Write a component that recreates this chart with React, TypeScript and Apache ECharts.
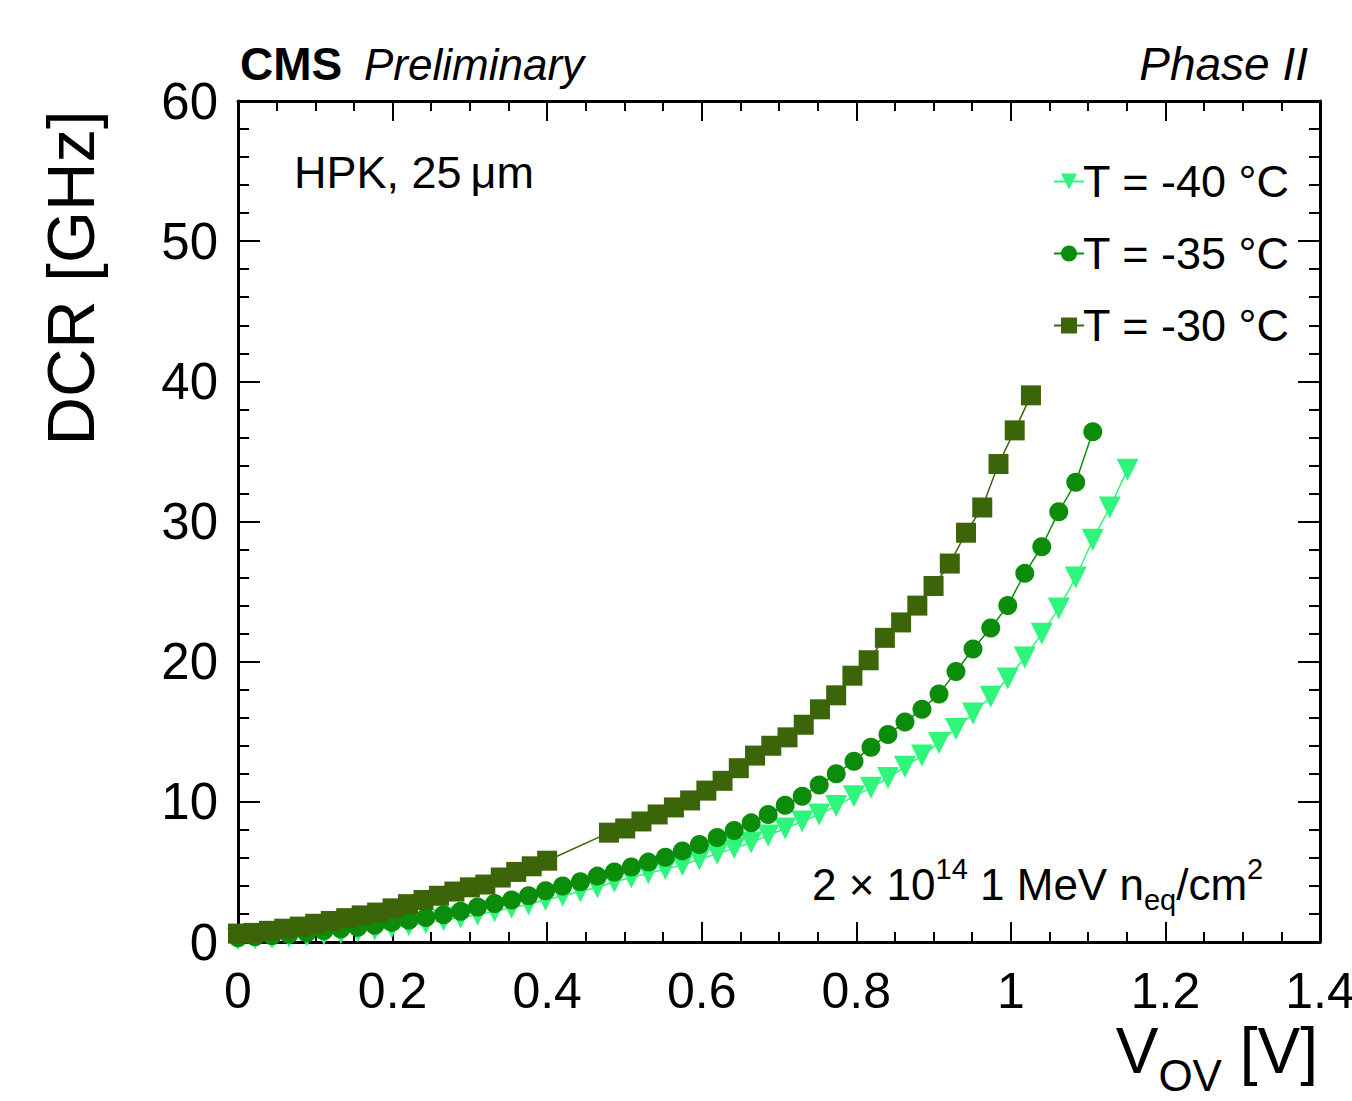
import React, { useEffect, useRef } from "react";
import * as echarts from "echarts";

const FONT = "'Liberation Sans', Arial, Helvetica, sans-serif";

const xTicks = [0, 0.2, 0.4, 0.6, 0.8, 1, 1.2, 1.4];
const yTicks = [0, 10, 20, 30, 40, 50, 60];

const seriesNames = ["T = -40 °C", "T = -35 °C", "T = -30 °C"];

const xM40 = [0, 0.022, 0.044, 0.066, 0.089, 0.111, 0.133, 0.155, 0.177, 0.199, 0.221, 0.243, 0.266, 0.288, 0.31, 0.332, 0.354, 0.376, 0.398, 0.42, 0.443, 0.465, 0.487, 0.509, 0.531, 0.553, 0.575, 0.597, 0.62, 0.642, 0.664, 0.686, 0.708, 0.73, 0.752, 0.774, 0.797, 0.819, 0.841, 0.863, 0.885, 0.907, 0.929, 0.951, 0.974, 0.996, 1.018, 1.04, 1.062, 1.084, 1.106, 1.128, 1.151];
const yM40 = [0.2, 0.25, 0.3, 0.38, 0.45, 0.55, 0.65, 0.77, 0.9, 1.05, 1.2, 1.35, 1.55, 1.75, 1.95, 2.2, 2.45, 2.7, 3.0, 3.3, 3.6, 3.9, 4.3, 4.6, 4.9, 5.2, 5.5, 5.9, 6.3, 6.7, 7.1, 7.6, 8.1, 8.6, 9.1, 9.7, 10.4, 11.0, 11.7, 12.5, 13.3, 14.2, 15.2, 16.3, 17.5, 18.8, 20.3, 22.0, 23.8, 26.0, 28.7, 31.0, 33.7];

const xM35 = [0, 0.022, 0.044, 0.066, 0.089, 0.111, 0.133, 0.155, 0.177, 0.199, 0.221, 0.243, 0.266, 0.288, 0.31, 0.332, 0.354, 0.376, 0.398, 0.42, 0.443, 0.465, 0.487, 0.509, 0.531, 0.553, 0.575, 0.597, 0.62, 0.642, 0.664, 0.686, 0.708, 0.73, 0.752, 0.774, 0.797, 0.819, 0.841, 0.863, 0.885, 0.907, 0.929, 0.951, 0.974, 0.996, 1.018, 1.04, 1.062, 1.084, 1.106];
const yM35 = [0.3, 0.38, 0.45, 0.55, 0.65, 0.8, 0.92, 1.05, 1.2, 1.4, 1.55, 1.75, 1.95, 2.2, 2.5, 2.75, 3.0, 3.3, 3.65, 4.0, 4.3, 4.7, 5.0, 5.35, 5.7, 6.05, 6.5, 6.95, 7.45, 7.95, 8.5, 9.1, 9.75, 10.4, 11.2, 12.0, 12.9, 13.9, 14.8, 15.7, 16.6, 17.7, 19.3, 20.9, 22.4, 24.0, 26.3, 28.2, 30.7, 32.8, 36.4];

const xM30 = [0, 0.02, 0.04, 0.06, 0.08, 0.1, 0.12, 0.14, 0.16, 0.18, 0.2, 0.22, 0.24, 0.26, 0.28, 0.3, 0.32, 0.34, 0.36, 0.38, 0.4, 0.48, 0.501, 0.522, 0.543, 0.564, 0.585, 0.606, 0.627, 0.648, 0.669, 0.69, 0.711, 0.732, 0.753, 0.774, 0.795, 0.816, 0.837, 0.858, 0.879, 0.9, 0.921, 0.942, 0.963, 0.984, 1.005, 1.026];
const yM30 = [0.6, 0.65, 0.8, 0.95, 1.1, 1.3, 1.5, 1.7, 1.9, 2.1, 2.4, 2.7, 3.0, 3.3, 3.6, 3.9, 4.1, 4.6, 5.0, 5.4, 5.8, 7.8, 8.1, 8.6, 9.1, 9.6, 10.1, 10.8, 11.5, 12.4, 13.3, 14.0, 14.6, 15.5, 16.6, 17.6, 19.0, 20.1, 21.7, 22.8, 24.0, 25.4, 27.0, 29.2, 31.0, 34.1, 36.5, 39.0];

const colors = ["#30f57c", "#0b8c0b", "#3c6408"];

function pairs(xs: number[], ys: number[]) {
  return xs.map((x, i) => [x, ys[i]]);
}

export default function App() {
  const ref = useRef<HTMLDivElement>(null);
  useEffect(() => {
    document.body.style.margin = "0";
    document.body.style.overflow = "hidden";
    const chart = echarts.init(ref.current!, null, { renderer: "svg" });
    const tickCommon = {
      axisLine: { show: true, onZero: false, lineStyle: { color: "#000", width: 3 } },
      splitLine: { show: false },
    };
    const xBase = {
      type: "value" as const,
      min: 0,
      max: 1.4,
      interval: 0.2,
      ...tickCommon,
      axisTick: { show: true, inside: true, length: 20, lineStyle: { color: "#000", width: 2 } },
      minorTick: { show: true, splitNumber: 4, length: 10, lineStyle: { color: "#000", width: 2 } },
    };
    const yBase = {
      type: "value" as const,
      min: 0,
      max: 60,
      interval: 10,
      ...tickCommon,
      axisTick: { show: true, inside: true, length: 22, lineStyle: { color: "#000", width: 2 } },
      minorTick: { show: true, splitNumber: 5, length: 11, lineStyle: { color: "#000", width: 2 } },
    };
    const symbols = ["triangle", "circle", "rect"];
    const datas = [pairs(xM40, yM40), pairs(xM35, yM35), pairs(xM30, yM30)];
    const sizes = [22, 19, 20];
    chart.setOption({
      animation: false,
      backgroundColor: "#fff",
      grid: { left: 238, right: 32, top: 101, bottom: 159, containLabel: false, outerBoundsMode: "none" },
      xAxis: [
        {
          ...xBase,
          position: "bottom",
          axisLabel: {
            show: true,
            margin: 24,
            color: "#000",
            fontSize: 50,
            fontFamily: FONT,
            formatter: (v: number) => {
              const t = xTicks.find((k) => Math.abs(k - v) < 1e-6);
              return t === undefined ? "" : String(t);
            },
          },
        },
        { ...xBase, position: "top", axisLabel: { show: false } },
      ],
      yAxis: [
        {
          ...yBase,
          position: "left",
          axisLabel: {
            show: true,
            margin: 20,
            color: "#000",
            fontSize: 51,
            fontFamily: FONT,
            formatter: (v: number) => {
              const t = yTicks.find((k) => Math.abs(k - v) < 1e-6);
              return t === undefined ? "" : String(t);
            },
          },
        },
        { ...yBase, position: "right", axisLabel: { show: false } },
      ],
      legend: {
        orient: "vertical",
        left: 1048,
        top: 154,
        itemGap: 27,
        itemWidth: 30,
        itemHeight: 20,
        data: seriesNames,
        textStyle: { color: "#000", fontSize: 45, fontFamily: FONT, padding: [0, 0, 0, -6] },
      },
      series: seriesNames.map((name, i) => ({
        name,
        type: "line",
        xAxisIndex: 0,
        yAxisIndex: 0,
        data: datas[i],
        symbol: symbols[i],
        symbolRotate: i === 0 ? 180 : 0,
        symbolSize: sizes[i],
        showSymbol: true,
        color: colors[i],
        itemStyle: { color: colors[i] },
        lineStyle: { color: colors[i], width: 1.5 },
        z: 2 + i,
      })),
      graphic: [
        {
          type: "text",
          x: 240,
          y: 64,
          style: { text: "CMS", fill: "#000", fontSize: 46, fontWeight: "bold", fontFamily: FONT, align: "left", verticalAlign: "middle" },
        },
        {
          type: "text",
          x: 364,
          y: 64,
          style: { text: "Preliminary", fill: "#000", fontSize: 44, fontStyle: "italic", fontFamily: FONT, align: "left", verticalAlign: "middle" },
        },
        {
          type: "text",
          x: 1308,
          y: 64,
          style: { text: "Phase II", fill: "#000", fontSize: 46, fontStyle: "italic", fontFamily: FONT, align: "right", verticalAlign: "middle" },
        },
        {
          type: "text",
          x: 294,
          y: 172,
          style: { text: "HPK, 25\u2009\u03bcm", fill: "#000", fontSize: 45, fontFamily: FONT, align: "left", verticalAlign: "middle" },
        },
        {
          type: "text",
          x: 70,
          y: 278,
          rotation: Math.PI / 2,
          style: { text: "DCR [GHz]", fill: "#000", fontSize: 67, fontFamily: FONT, align: "center", verticalAlign: "middle" },
        },
        {
          type: "text",
          x: 1318,
          y: 1058,
          style: {
            text: "{v|V}{s|OV}{v| [V]}",
            align: "right",
            verticalAlign: "middle",
            fill: "#000",
            fontFamily: FONT,
            rich: {
              v: { fontSize: 64, lineHeight: 78, fontFamily: FONT, fill: "#000", verticalAlign: "top" },
              s: { fontSize: 44, lineHeight: 44, fontFamily: FONT, fill: "#000", verticalAlign: "bottom" },
            },
          },
        },
        {
          type: "text",
          x: 812,
          y: 884,
          style: {
            text: "{n|2 \u00d7 10}{p|14}{n| 1 MeV n}{b|eq}{n|/cm}{p|2}",
            align: "left",
            verticalAlign: "middle",
            fill: "#000",
            fontFamily: FONT,
            rich: {
              n: { fontSize: 44, lineHeight: 60, fontFamily: FONT, fill: "#000" },
              p: { fontSize: 29, lineHeight: 30, fontFamily: FONT, fill: "#000", verticalAlign: "top" },
              b: { fontSize: 29, lineHeight: 30, fontFamily: FONT, fill: "#000", verticalAlign: "bottom" },
            },
          },
        },
      ],
    });
    return () => chart.dispose();
  }, []);
  return <div ref={ref} style={{ width: 1352, height: 1101, display: "block" }} />;
}
